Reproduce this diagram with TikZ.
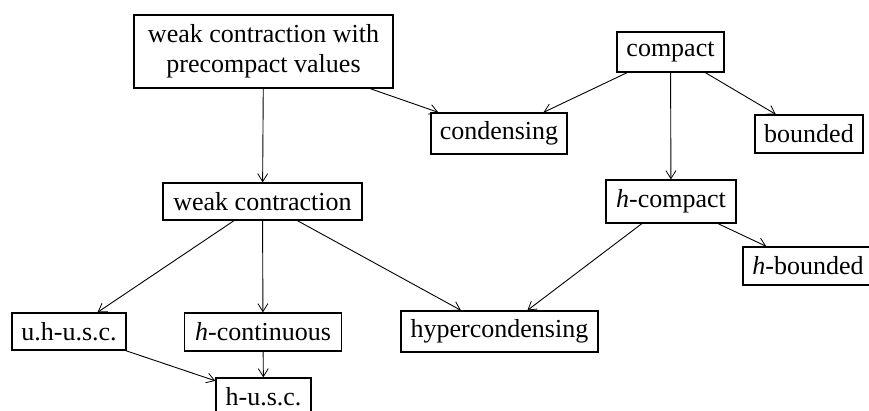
\documentclass[tikz,border=0pt]{standalone}
\usepackage{fontspec}
\setmainfont{Liberation Serif}
\usetikzlibrary{arrows.meta}
\begin{document}
\begin{tikzpicture}[x=1pt,y=-1pt,
  box/.style={draw,line width=1.3pt,inner sep=0pt,align=center,font=\fontsize{26}{30}\selectfont},
  edge/.style={-{Straight Barb[length=8pt,width=10pt,line width=0.8pt]},line width=0.9pt}]
\useasboundingbox (0,0) rectangle (869,410);
\node[box,minimum width=259pt,minimum height=73pt] (wcpv) at (263.5,51.5) {weak contraction with\\precompact values};
\node[box,minimum width=107pt,minimum height=40pt] (comp) at (670.5,52) {compact};
\node[box,minimum width=136pt,minimum height=41pt] (cond) at (499,133.5) {condensing};
\node[box,minimum width=108pt,minimum height=38pt] (bdd) at (809,134) {bounded};
\node[box,minimum width=199pt,minimum height=37pt] (wc) at (262.5,201.5) {weak contraction};
\node[box,minimum width=130pt,minimum height=43pt] (hcomp) at (671,201.5) {\textit{h}-compact};
\node[box,minimum width=130pt,minimum height=38pt] (hbdd) at (808,266) {\textit{h}-bounded};
\node[box,minimum width=114pt,minimum height=37pt] (uh) at (69,331.5) {u.h-u.s.c.};
\node[box,minimum width=157pt,minimum height=38pt] (hcont) at (263,332) {\textit{h}-continuous};
\node[box,minimum width=197pt,minimum height=41pt] (hyp) at (499.5,331.5) {hypercondensing};
\node[box,minimum width=95pt,minimum height=38pt] (husc) at (263.5,397) {h-u.s.c.};
\draw[edge] (wcpv) -- (wc);
\draw[edge] (wcpv) -- (cond);
\draw[edge] (comp) -- (cond);
\draw[edge] (comp) -- (bdd);
\draw[edge] (comp) -- (hcomp);
\draw[edge] (hcomp) -- (hbdd);
\draw[edge] (hcomp) -- (hyp);
\draw[edge] (wc) -- (uh);
\draw[edge] (wc) -- (hcont);
\draw[edge] (wc) -- (hyp);
\draw[edge] (uh) -- (husc);
\draw[edge] (hcont) -- (husc);
\end{tikzpicture}
\end{document}
